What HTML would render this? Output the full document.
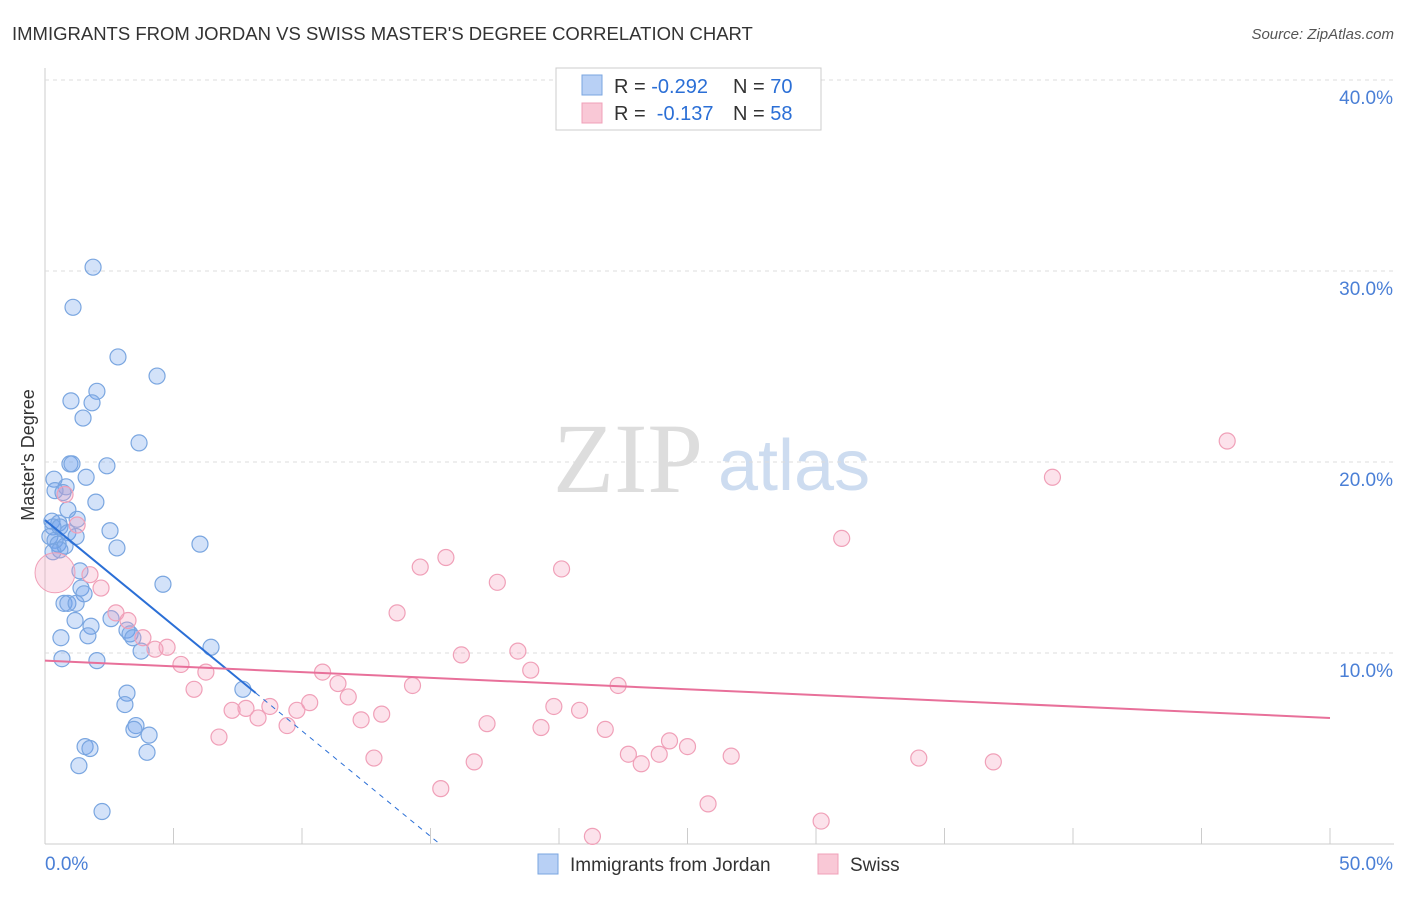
<!DOCTYPE html>
<html><head><meta charset="utf-8"><style>
body{margin:0;background:#fff;font-family:"Liberation Sans",sans-serif;}
</style></head><body>
<svg id="chart" width="1406" height="892" font-family="Liberation Sans, sans-serif">
<text x="12" y="40" font-size="18.5" fill="#333">IMMIGRANTS FROM JORDAN VS SWISS MASTER'S DEGREE CORRELATION CHART</text>
<text x="1394" y="39" font-size="15" fill="#555" font-style="italic" text-anchor="end">Source: ZipAtlas.com</text>
<text x="34" y="455" font-size="18" fill="#333" text-anchor="middle" transform="rotate(-90 34 455)">Master's Degree</text>
<text x="553" y="492" font-size="100" fill="#ddd" style="font-family:'Liberation Serif',serif">ZIP</text>
<text x="718" y="490" font-size="72" fill="#cddcf0">atlas</text>
<g id="grid"></g><g id="pts"></g><g id="lines"></g>
<g>
<rect x="556" y="68" width="265" height="62" fill="#fff" stroke="#ccc"/>
<rect x="582" y="75" width="20" height="20" fill="#b8d0f5" stroke="#7aa6e0"/>
<text x="614" y="93" font-size="20" fill="#333">R = <tspan fill="#2b6fd6">-0.292</tspan></text>
<text x="733" y="93" font-size="20" fill="#333">N = <tspan fill="#2b6fd6">70</tspan></text>
<rect x="582" y="103" width="20" height="20" fill="#f9c8d6" stroke="#f0a0b8"/>
<text x="614" y="120" font-size="20" fill="#333">R = &#160;<tspan fill="#2b6fd6">-0.137</tspan></text>
<text x="733" y="120" font-size="20" fill="#333">N = <tspan fill="#2b6fd6">58</tspan></text>
</g>
<g>
<rect x="538" y="854" width="20" height="20" fill="#b8d0f5" stroke="#7aa6e0"/>
<text x="570" y="871" font-size="19" fill="#333">Immigrants from Jordan</text>
<rect x="818" y="854" width="20" height="20" fill="#f9c8d6" stroke="#f0a0b8"/>
<text x="850" y="871" font-size="19" fill="#333">Swiss</text>
</g>
</svg>
<script>
const yTicks=[10,20,30,40];
const xTicks=[0,5,10,15,20,25,30,35,40,45,50];
const blueX=[1.87,1.09,2.84,4.36,2.02,1.01,1.83,1.48,3.66,0.97,1.05,2.41,1.60,0.35,0.82,0.39,0.70,1.98,0.89,1.25,0.27,0.54,0.31,0.58,2.53,0.89,0.19,1.21,0.39,0.51,6.03,0.78,2.80,0.58,0.31,1.36,4.59,1.40,1.52,0.74,0.89,1.21,2.57,1.17,1.79,3.19,3.31,1.67,0.62,3.42,6.46,3.74,0.66,2.02,7.70,3.19,3.11,3.54,3.46,4.05,1.56,1.75,3.97,1.32,2.22];
const blueY=[30.2,28.1,25.5,24.5,23.7,23.2,23.1,22.3,21.0,19.9,19.9,19.8,19.2,19.1,18.7,18.5,18.4,17.9,17.5,17.0,16.9,16.8,16.6,16.6,16.4,16.3,16.1,16.1,15.9,15.7,15.7,15.6,15.5,15.4,15.3,14.3,13.6,13.4,13.1,12.6,12.6,12.6,11.8,11.7,11.4,11.2,11.0,10.9,10.8,10.8,10.3,10.1,9.7,9.6,8.1,7.9,7.3,6.2,6.0,5.7,5.1,5.0,4.8,4.1,1.7];
const pinkX=[46.0,39.2,31.0,15.6,14.6,20.1,17.6,0.78,1.25,1.75,2.18,13.7,2.76,3.23,3.81,4.75,4.28,18.4,16.2,5.29,18.9,6.26,10.8,11.4,22.3,14.3,5.80,11.8,10.3,19.8,8.75,7.82,7.28,9.80,20.8,13.1,8.29,12.3,9.42,17.2,19.3,21.8,6.77,24.3,25.0,22.7,23.9,23.2,26.7,34.0,12.8,16.7,36.9,15.4,25.8,30.2,21.3];
const pinkY=[21.1,19.2,16.0,15.0,14.5,14.4,13.7,18.3,16.7,14.1,13.4,12.1,12.1,11.7,10.8,10.3,10.2,10.1,9.9,9.4,9.1,9.0,9.0,8.4,8.3,8.3,8.1,7.7,7.4,7.2,7.2,7.1,7.0,7.0,7.0,6.8,6.6,6.5,6.2,6.3,6.1,6.0,5.6,5.4,5.1,4.7,4.7,4.2,4.6,4.5,4.5,4.3,4.3,2.9,2.1,1.2,0.4];
const bigPink=[0.39,14.2];
const blueFit=[16.96,-1.104,8.2];
const pinkFit=[9.6,6.6];
const NS="http://www.w3.org/2000/svg";
const X=v=>45+v*25.7, Y=v=>844-v*19.1;
function mk(t,a,p){const e=document.createElementNS(NS,t);for(const k in a)e.setAttribute(k,a[k]);document.getElementById(p).appendChild(e);return e;}
const ax=mk('line',{x1:45,y1:68,x2:45,y2:844,stroke:'#ccc'},'grid');


const bx=mk('line',{x1:45,y1:844,x2:1394,y2:844,stroke:'#ccc'},'grid');


yTicks.forEach(t=>{const g=mk('line',{x1:45,y1:Y(t),x2:1394,y2:Y(t),stroke:'#ddd','stroke-dasharray':'4,4'},'grid');


const l=mk('text',{x:1393,y:Y(t)+24,'font-size':19,fill:'#4a7fd6','text-anchor':'end'},'grid');l.textContent=t.toFixed(1)+'%';

});
xTicks.forEach(t=>{const g=mk('line',{x1:X(t),y1:828,x2:X(t),y2:844,stroke:'#ccc'},'grid');

});
[[0,'start'],[50,'end']].forEach(([t,a])=>{const l=mk('text',{x:X(t)+(a=='end'?63:0),y:870,'font-size':19,fill:'#4a7fd6','text-anchor':a},'grid');l.textContent=t.toFixed(1)+'%';

});
blueX.forEach((v,i)=>{const c=mk('circle',{cx:X(v),cy:Y(blueY[i]),r:8,fill:'rgba(110,160,235,0.3)',stroke:'#7aa6e0','stroke-width':1.2},'pts');

});
const bp=mk('circle',{cx:X(bigPink[0]),cy:Y(bigPink[1]),r:20,fill:'rgba(245,160,190,0.3)',stroke:'#f0a0b8'},'pts');


pinkX.forEach((v,i)=>{const c=mk('circle',{cx:X(v),cy:Y(pinkY[i]),r:8,fill:'rgba(245,160,190,0.3)',stroke:'#f0a0b8','stroke-width':1.2},'pts');

});
const be=blueFit[2], bz=-blueFit[0]/blueFit[1];
const l1=mk('line',{x1:X(0),y1:Y(blueFit[0]),x2:X(be),y2:Y(blueFit[0]+blueFit[1]*be),stroke:'#2b6fd6','stroke-width':2},'lines');


const l2=mk('line',{x1:X(be),y1:Y(blueFit[0]+blueFit[1]*be),x2:X(bz),y2:Y(0),stroke:'#2b6fd6','stroke-width':1,'stroke-dasharray':'5,5'},'lines');


const l3=mk('line',{x1:X(0),y1:Y(pinkFit[0]),x2:X(50),y2:Y(pinkFit[1]),stroke:'#e8709a','stroke-width':2},'lines');


</script>
</body></html>
